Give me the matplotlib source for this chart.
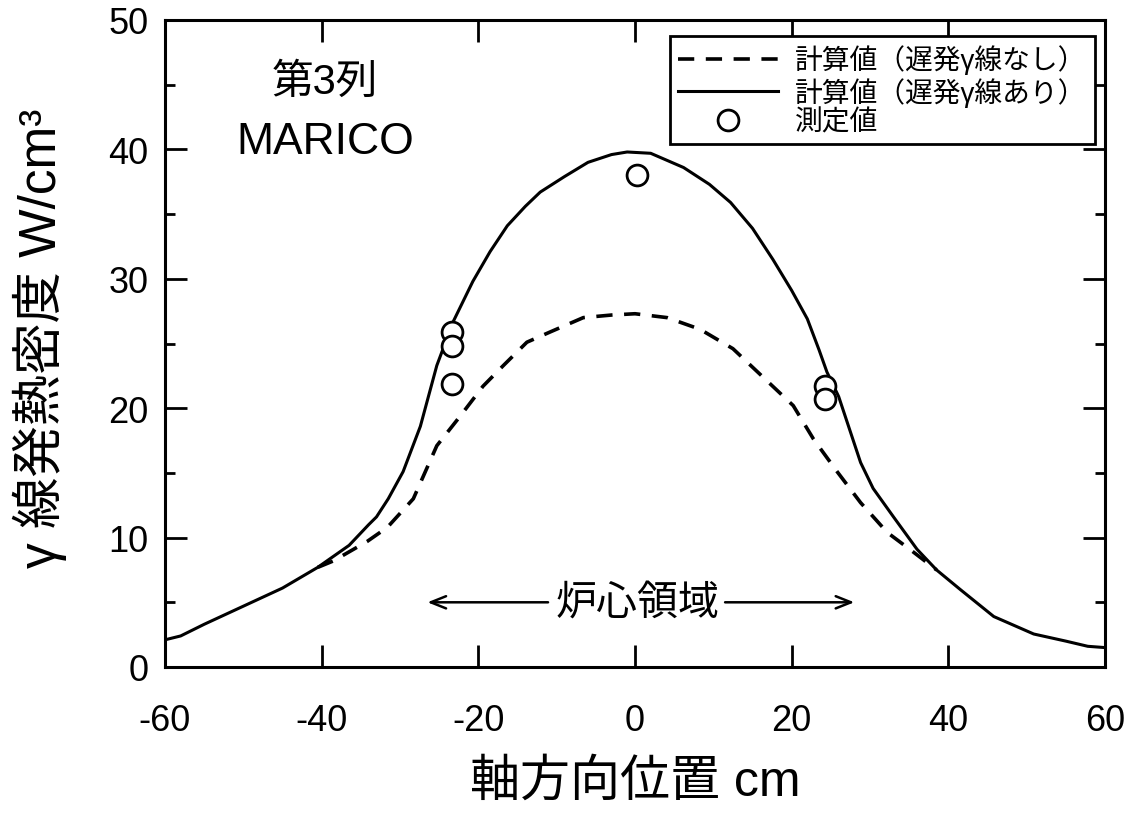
import matplotlib
matplotlib.use("Agg")
import matplotlib.pyplot as plt
from matplotlib.ticker import MultipleLocator

plt.rcParams['font.family'] = ['Liberation Sans', 'Noto Sans CJK JP', 'DejaVu Sans']
plt.rcParams['axes.unicode_minus'] = False

# --- data ---
solid_x = [-60, -58, -55, -50, -45, -40.5, -36.5, -34, -33, -31.5, -29.6, -27.4, -25.3,
           -23.2, -20.7, -18.5, -16.3, -14, -12.1, -9, -6, -3, -1, 2, 6.2, 9.5, 12.2, 15,
           17.6, 20, 22, 23.5, 24.5, 26, 28.8, 30.4, 33, 36, 38.5, 41.5, 45.8, 50.9, 55, 57.8, 60]
solid_y = [2.1, 2.4, 3.3, 4.7, 6.1, 7.7, 9.4, 11.0, 11.6, 13.0, 15.1, 18.6, 23.3,
           26.7, 29.8, 32.1, 34.1, 35.6, 36.7, 37.9, 39.0, 39.6, 39.8, 39.7, 38.6, 37.3, 35.9, 33.9,
           31.5, 29.1, 26.9, 24.5, 22.8, 20.9, 15.8, 13.8, 11.6, 9.1, 7.5, 6.0, 3.9, 2.55, 2.0, 1.6, 1.5]

dash_x = [-40.5, -38.5, -34.2, -31.6, -28.3, -25.3, -22.3, -19.4, -16.8, -13.8, -10.8,
          -6.6, -3, 0, 4.1, 8.3, 12.5, 16, 20.2, 22.8, 25.8, 28.8, 32.2, 35.5, 38.5]
dash_y = [7.7, 8.2, 9.7, 10.8, 13.0, 17.1, 19.4, 21.7, 23.3, 25.1, 25.9,
          27.0, 27.2, 27.3, 27.0, 26.1, 24.6, 22.6, 20.2, 17.6, 15.1, 12.7, 10.4, 8.9, 7.5]

meas_x = [-23.3, -23.3, -23.3, 0.3, 24.3, 24.3]
meas_y = [25.9, 24.8, 21.9, 38.0, 21.7, 20.7]

xticks = [-60, -40, -20, 0, 20, 40, 60]
yticks = [0, 10, 20, 30, 40, 50]

label_dash = '計算値（遅発γ線なし）'
label_solid = '計算値（遅発γ線あり）'
label_meas = '測定値'

# --- figure ---
fig = plt.figure(figsize=(11.35, 8.2), dpi=100)
ax = fig.add_axes([165/1135, 1 - 668/820, 940/1135, 647/820])

ax.plot(dash_x, dash_y, color='black', lw=2.6, ls=(0, (4.5, 3.2)), label=label_dash)
ax.plot(solid_x, solid_y, color='black', lw=2.2, label=label_solid)
ax.plot(meas_x, meas_y, ls='none', marker='o', ms=15, mfc='white', mec='black',
        mew=2.0, label=label_meas)

ax.set_xlim(-60, 60)
ax.set_ylim(0, 50)
ax.set_xticks(xticks)
ax.set_yticks(yticks)
ax.yaxis.set_minor_locator(MultipleLocator(5))
ax.tick_params(which='both', direction='in', top=True, right=True, width=2.0,
               labelsize=26)
ax.tick_params(which='major', length=16)
ax.tick_params(which='minor', length=7)
ax.tick_params(axis='x', pad=26)
ax.tick_params(axis='y', pad=12)
for s in ax.spines.values():
    s.set_linewidth(2.2)

ax.set_xlabel('軸方向位置 cm', fontsize=36, labelpad=14)
ax.set_ylabel('γ 線発熱密度 W/cm³', fontsize=37)
ax.yaxis.set_label_coords(-0.104, 0.51)

ax.text(-39.6, 45.2, '第3列', fontsize=30, ha='center', va='center')
ax.text(-39.6, 40.6, 'MARICO', fontsize=32, ha='center', va='center')

# core region annotation
ax.text(0.35, 5.0, '炉心領域', fontsize=29.5, ha='center', va='center')
arrow = dict(arrowstyle='->,head_length=0.55,head_width=0.22', lw=1.8,
             color='black', mutation_scale=20, shrinkA=0, shrinkB=0)
ax.annotate('', xy=(-26.5, 5.0), xytext=(-11.1, 5.0), arrowprops=arrow)
ax.annotate('', xy=(28.0, 5.0), xytext=(11.5, 5.0), arrowprops=arrow)

leg = ax.legend(loc='upper right', bbox_to_anchor=(0.989, 0.975), fontsize=20,
                frameon=True, fancybox=False, framealpha=1, edgecolor='black',
                handlelength=3.6, labelspacing=0.1, borderpad=0.3,
                handletextpad=0.6, borderaxespad=0)
leg.get_frame().set_linewidth(2.0)

fig.savefig('out.png', dpi=100)
